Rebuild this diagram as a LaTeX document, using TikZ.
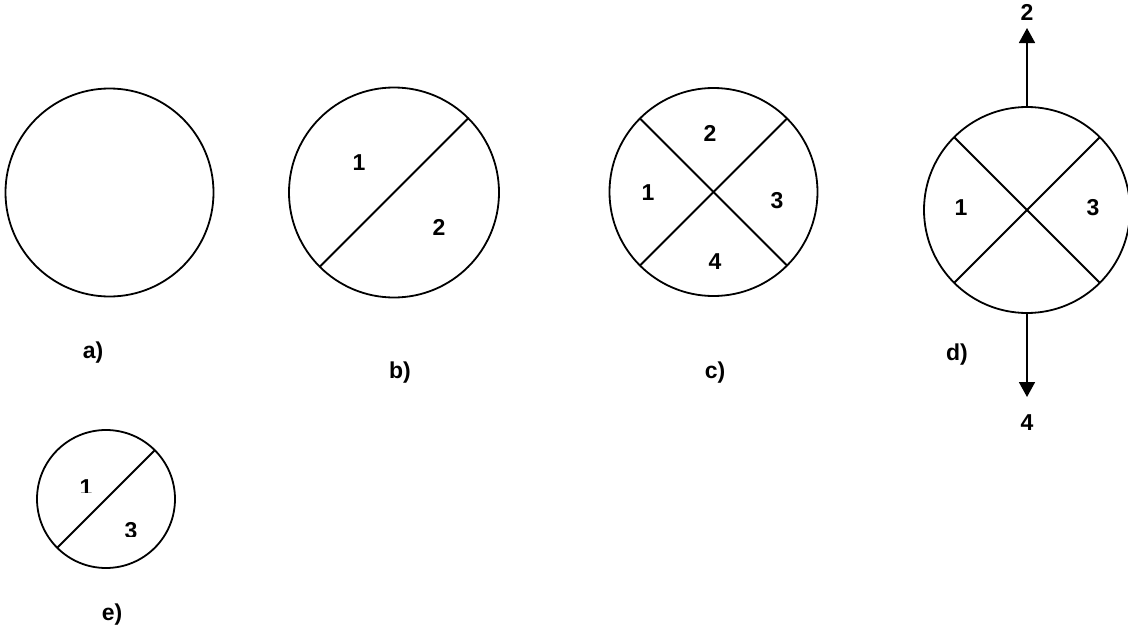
\documentclass[tikz,border=0pt]{standalone}
\usepackage{fontspec}
\setmainfont{Liberation Sans}
\usetikzlibrary{arrows.meta}
\tikzset{
  ring/.style={circle,draw,line width=1.8pt,outer sep=0pt,inner sep=0pt},
  lbl/.style={font=\fontsize{23}{26}\selectfont\bfseries,inner sep=0pt},
  chord/.style={line width=1.8pt},
  flowarrow/.style={line width=1.8pt,-{Triangle[width=16pt,length=15pt]}}
}
\begin{document}
\begin{tikzpicture}[x=1pt,y=-1pt]
\useasboundingbox (0,0) rectangle (1128,637);
% a)
\node[ring,minimum size=208pt] (ca) at (109.5,192.5) {};
\node[lbl] (la) at (93,353) {a)};
% b)
\node[ring,minimum size=210pt] (cb) at (394,192.5) {};
\draw[chord] (cb.45) -- (cb.225);
\node[lbl] (b1) at (359,163) {1};
\node[lbl] (b2) at (439,227) {2};
\node[lbl] (lb) at (400,373) {b)};
% c)
\node[ring,minimum size=208pt] (cc) at (713.5,192) {};
\draw[chord] (cc.45) -- (cc.225);
\draw[chord] (cc.135) -- (cc.315);
\node[lbl] (c2) at (710,133) {2};
\node[lbl] (c1) at (648,193) {1};
\node[lbl] (c3) at (777,201) {3};
\node[lbl] (c4) at (715,262) {4};
\node[lbl] (lc) at (715,373) {c)};
% d)
\node[ring,minimum size=206pt] (cd) at (1027,210) {};
\draw[chord] (cd.45) -- (cd.225);
\draw[chord] (cd.135) -- (cd.315);
\node[lbl] (d1) at (961,208) {1};
\node[lbl] (d3) at (1093,208) {3};
\coordinate (dtop) at (1027,28);
\coordinate (dbot) at (1027,397);
\draw[flowarrow] (cd.north) -- (dtop);
\draw[flowarrow] (cd.south) -- (dbot);
\node[lbl] (d2) at (1027,12) {2};
\node[lbl] (d4) at (1027,423) {4};
\node[lbl] (ld) at (957,355) {d)};
% e)
\node[ring,minimum size=138pt] (ce) at (106,499) {};
\draw[chord] (ce.45) -- (ce.225);
\begin{scope}
  \clip (70,470) rectangle (100,492.5);
  \node[lbl] (e1) at (86,488) {1};
\end{scope}
\begin{scope}
  \clip (115,515) rectangle (150,536.5);
  \node[lbl] (e3) at (131,531) {3};
\end{scope}
\node[lbl] (le) at (112,615) {e)};
\end{tikzpicture}
\end{document}
